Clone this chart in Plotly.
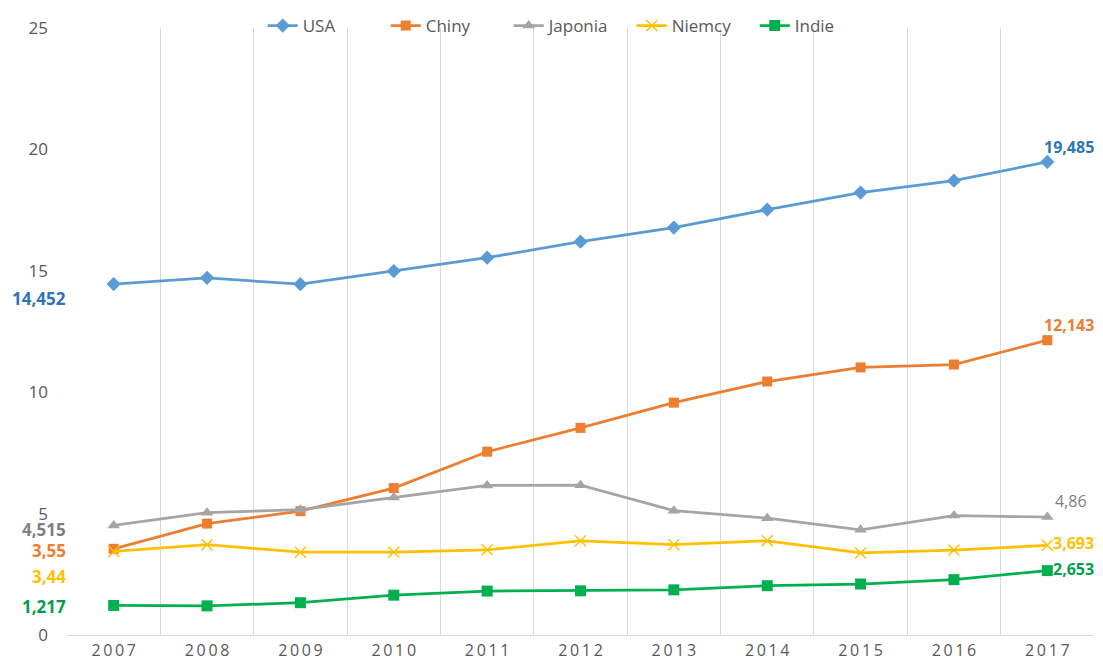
import plotly.graph_objects as go

years = ["2007", "2008", "2009", "2010", "2011", "2012", "2013", "2014", "2015", "2016", "2017"]
usa = [14.452, 14.71, 14.45, 14.99, 15.54, 16.20, 16.78, 17.52, 18.22, 18.71, 19.485]
chiny = [3.55, 4.59, 5.10, 6.05, 7.55, 8.53, 9.57, 10.44, 11.02, 11.14, 12.143]
japonia = [4.515, 5.04, 5.16, 5.66, 6.16, 6.17, 5.12, 4.81, 4.33, 4.92, 4.86]
niemcy = [3.44, 3.72, 3.41, 3.41, 3.51, 3.88, 3.72, 3.88, 3.38, 3.50, 3.693]
indie = [1.217, 1.20, 1.33, 1.64, 1.81, 1.82, 1.86, 2.03, 2.10, 2.28, 2.653]
y_ticks = [0, 5, 10, 15, 20, 25]

series = [
    ("USA", usa, "#5B9BD5", "diamond", 11, "#2E75B6"),
    ("Chiny", chiny, "#ED7D31", "square", 10, "#ED7D31"),
    ("Japonia", japonia, "#A5A5A5", "triangle-up", 11, "#7F7F7F"),
    ("Niemcy", niemcy, "#FFC000", "x-thin", 11, "#FFC000"),
    ("Indie", indie, "#00B050", "square", 11, "#00A04A"),
]

xs = list(range(len(years)))
fig = go.Figure()
for name, vals, col, sym, size, lcol in series:
    fig.add_trace(go.Scatter(
        x=xs, y=vals, name=name, mode="lines+markers",
        line=dict(color=col, width=2.75),
        marker=dict(symbol=sym, size=size, color=col,
                    line=dict(color=col, width=1.5 if sym == "x-thin" else 0)),
    ))

def fmt(v):
    return f"{v:g}".replace(".", ",")

left_shift = {"USA": -14, "Chiny": -2, "Japonia": -4, "Niemcy": -25, "Indie": -1}
right_pos = {"USA": (-5, 15), "Chiny": (-5, 15), "Japonia": (6, 16), "Niemcy": (4, 2), "Indie": (4, 2)}

for name, vals, col, sym, size, lcol in series:
    fig.add_annotation(x=xs[0], y=vals[0], xref="x", yref="y", text=fmt(vals[0]),
                       showarrow=False, xanchor="right", yanchor="middle",
                       xshift=-46, yshift=left_shift[name],
                       font=dict(family="Open Sans", size=17, color=lcol, weight="bold"))
    dx, dy = right_pos[name]
    fig.add_annotation(x=xs[-1], y=vals[-1], xref="x", yref="y", text=fmt(vals[-1]),
                       showarrow=False, xanchor="left", yanchor="middle",
                       xshift=dx, yshift=dy,
                       font=dict(family="Open Sans", size=16, color=lcol,
                                 weight="normal" if name == "Japonia" else "bold"))

fig.update_layout(
    width=1095, height=652,
    margin=dict(l=59, r=9, t=0, b=25),
    paper_bgcolor="white", plot_bgcolor="white",
    font=dict(family="Open Sans", color="#595959"),
    showlegend=True,
    legend=dict(orientation="h", x=0.49, xanchor="center",
                yref="paper", y=1, yanchor="top",
                font=dict(size=17, color="#595959"), bgcolor="rgba(0,0,0,0)",
                itemwidth=30, entrywidthmode="pixels", entrywidth=78),
)
fig.update_xaxes(
    type="linear", range=[-0.5, len(years) - 0.5], automargin=False,
    tickmode="array", tickvals=xs, ticktext=["\u2009".join(y) for y in years],
    showgrid=False, zeroline=False,
    showline=True, linecolor="#D9D9D9", linewidth=1,
    ticks="", tickfont=dict(size=16, color="#595959"), ticklabelstandoff=1,
    minor=dict(tickmode="array", tickvals=[i - 0.5 for i in range(len(years) + 1)],
               showgrid=True, gridcolor="#D9D9D9", gridwidth=1),
)
fig.update_yaxes(
    range=[0, 25], tickmode="array", tickvals=y_ticks, automargin=False,
    domain=[0, (627 - 20) / 627],
    showgrid=False, zeroline=False, showline=False, ticks="",
    tickfont=dict(size=17, color="#595959"), ticklabelstandoff=18,
)

fig.write_html("out.html")
